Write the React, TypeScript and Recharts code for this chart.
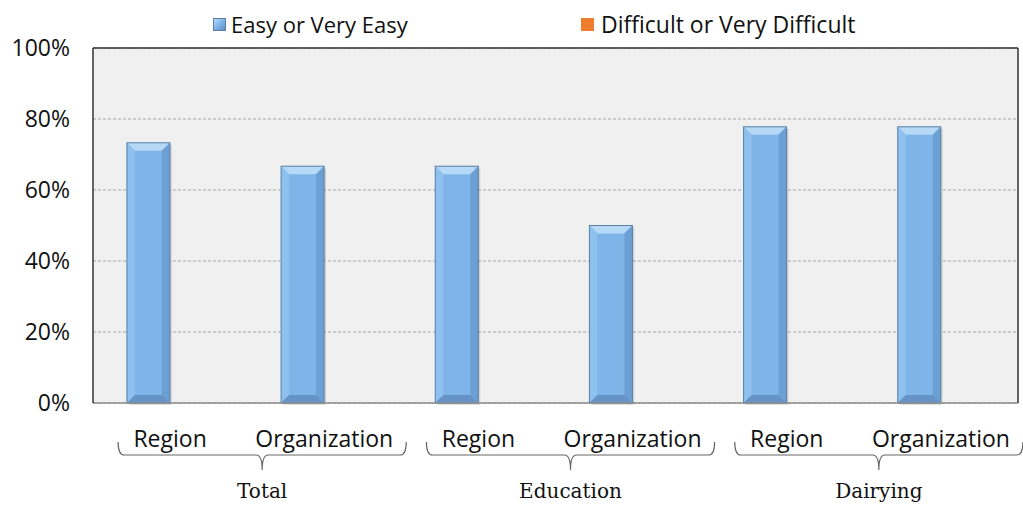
import { Bar, BarChart, CartesianGrid, ReferenceLine, XAxis, YAxis } from 'recharts'

const categories = ['Region', 'Organization', 'Region', 'Organization', 'Region', 'Organization']
const groups = ['Total', 'Education', 'Dairying']
const easyValues = [0.733, 0.667, 0.667, 0.5, 0.778, 0.778]
const difficultValues = [0, 0, 0, 0, 0, 0]
const seriesNames = ['Easy or Very Easy', 'Difficult or Very Difficult']
const yTicks = [0, 0.2, 0.4, 0.6, 0.8, 1]

const data = categories.map((name, i) => ({
  name,
  easy: easyValues[i],
  difficult: difficultValues[i],
}))

const W = 1023
const H = 506
const Y_AXIS_W = 93
const RIGHT_W = 5
const STEP = (W - Y_AXIS_W - RIGHT_W) / categories.length
const SANS = '"Open Sans", sans-serif'

function BevelBar(props: any) {
  const { x, y, width: w, height: h } = props
  if (!h || h <= 0) return null
  const b = Math.min(8, w / 3, h / 3)
  return (
    <g>
      <rect x={x + 2} y={y + 2} width={w} height={h} fill="rgba(0,0,0,0.12)" />
      <rect x={x} y={y} width={w} height={h} fill="#7fb4e8" />
      <polygon points={`${x},${y} ${x + w},${y} ${x + w - b},${y + b} ${x + b},${y + b}`} fill="#b5d9f7" />
      <polygon points={`${x},${y} ${x + b},${y + b} ${x + b},${y + h - b} ${x},${y + h}`} fill="#8fc1ef" />
      <polygon points={`${x + w},${y} ${x + w},${y + h} ${x + w - b},${y + h - b} ${x + w - b},${y + b}`} fill="#6c9fd3" />
      <polygon points={`${x},${y + h} ${x + w},${y + h} ${x + w - b},${y + h - b} ${x + b},${y + h - b}`} fill="#6593c6" />
      <rect x={x} y={y} width={w} height={h} fill="none" stroke="#5a80a8" strokeWidth={1} />
    </g>
  )
}

function CategoryTick(props: any) {
  const { x, y, payload, index } = props
  const base = y + 36
  let brace = null
  if (index % 2 === 0) {
    const left = x - 52
    const right = x + STEP + 82
    const mid = (left + right) / 2
    const ly = y + 44
    const d = `M${left},${ly - 13} Q${left},${ly} ${left + 6},${ly} L${mid - 6},${ly} Q${mid},${ly} ${mid},${ly + 15} Q${mid},${ly} ${mid + 6},${ly} L${right - 6},${ly} Q${right},${ly} ${right},${ly - 13}`
    brace = (
      <g>
        <path d={d} fill="none" stroke="#666" strokeWidth={1.2} />
        <text x={mid} y={y + 87} textAnchor="middle" fontFamily='"DejaVu Serif", serif' fontSize={20} fill="#111">
          {groups[index / 2]}
        </text>
      </g>
    )
  }
  return (
    <g>
      <text x={x} y={base} textAnchor="middle" fontFamily={SANS} fontSize={23} fill="#111">
        {payload.value}
      </text>
      {brace}
    </g>
  )
}

export default function App() {
  return (
    <div style={{ position: 'relative', width: W, height: H }}>
      <style>{'body{margin:0}'}</style>
      <div
        style={{
          position: 'absolute',
          top: 8,
          left: 0,
          width: W,
          display: 'flex',
          alignItems: 'center',
          fontFamily: SANS,
          fontSize: 22,
          color: '#111',
          lineHeight: '32px',
        }}
      >
        <div style={{ display: 'flex', alignItems: 'center', marginLeft: 213, width: 368 }}>
          <span
            style={{
              width: 13,
              height: 13,
              marginRight: 5,
              background: 'linear-gradient(135deg, #b9dcf8 0%, #7fb4e8 50%, #5e8fc4 100%)',
              border: '1px solid #5a80a8',
              boxSizing: 'border-box',
            }}
          />
          {seriesNames[0]}
        </div>
        <div style={{ display: 'flex', alignItems: 'center', fontSize: 23 }}>
          <span style={{ width: 13, height: 13, marginRight: 7, background: '#f07d2e' }} />
          {seriesNames[1]}
        </div>
      </div>
      <BarChart
        width={W}
        height={H}
        data={data}
        margin={{ top: 48, right: 0, bottom: 0, left: 0 }}
        barCategoryGap="22%"
        barGap={0}
      >
        <CartesianGrid vertical={false} fill="#f0f0f0" stroke="#a6a6a6" strokeDasharray="3 2" />
        <XAxis
          dataKey="name"
          height={103}
          tickLine={false}
          axisLine={{ stroke: '#8c8c8c', strokeWidth: 1.5 }}
          tick={<CategoryTick />}
          interval={0}
          allowDuplicatedCategory
        />
        <YAxis
          width={Y_AXIS_W}
          domain={[0, 1]}
          ticks={yTicks}
          tickFormatter={(v: number) => `${Math.round(v * 100)}%`}
          tickLine={false}
          axisLine={{ stroke: '#333', strokeWidth: 1.5 }}
          tickMargin={17}
          tick={{ fontFamily: SANS, fontSize: 23, fill: '#111' }}
        />
        <YAxis
          yAxisId="r"
          orientation="right"
          width={RIGHT_W}
          domain={[0, 1]}
          tick={false}
          tickLine={false}
          axisLine={{ stroke: '#333', strokeWidth: 1.5 }}
        />
        <ReferenceLine y={1} stroke="#333" strokeWidth={1.5} />
        <Bar dataKey="easy" name={seriesNames[0]} fill="#7fb4e8" shape={<BevelBar />} isAnimationActive={false} />
        <Bar dataKey="difficult" name={seriesNames[1]} fill="#f07d2e" isAnimationActive={false} />
      </BarChart>
    </div>
  )
}
